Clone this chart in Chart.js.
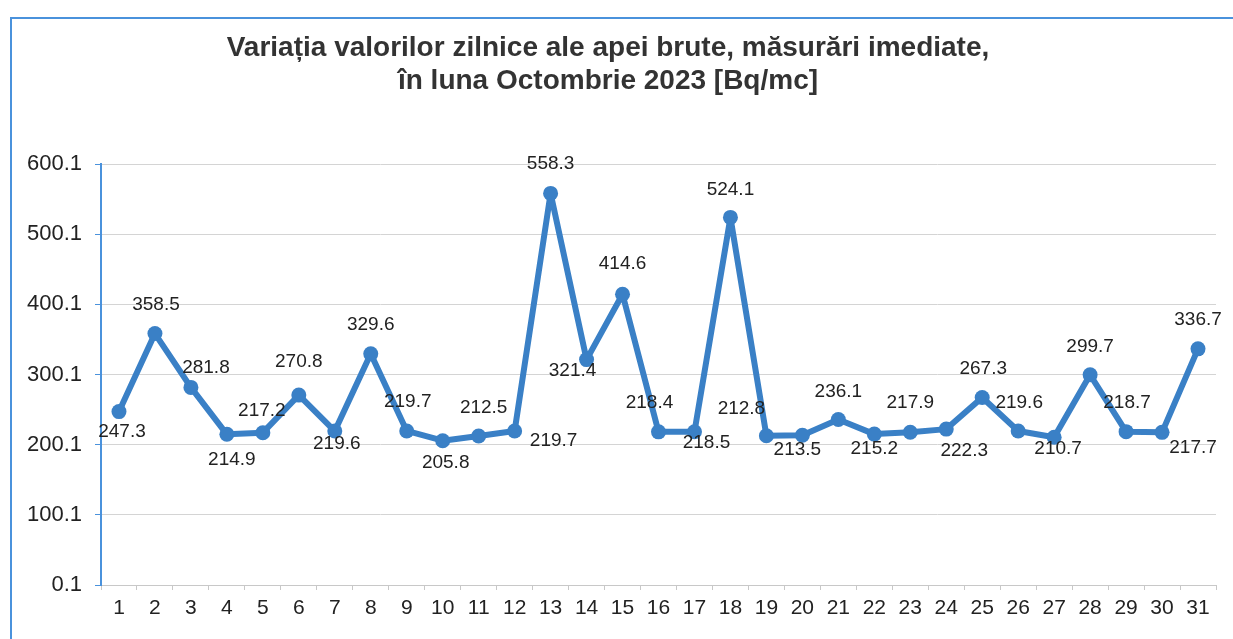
<!DOCTYPE html>
<html>
<head>
<meta charset="utf-8">
<script src="https://cdn.jsdelivr.net/npm/chart.js@4.4.0/dist/chart.umd.min.js"></script>
<style>
  html, body { margin: 0; padding: 0; background: #fff; }
  #wrap { position: relative; width: 1233px; height: 639px; overflow: hidden; }
  #frame { position: absolute; left: 10px; top: 17px; width: 1300px; height: 700px;
           border-left: 2px solid #4a92dc; border-top: 2px solid #4a92dc; }
  #mycanvas { position: absolute; left: 0; top: 0; }
</style>
</head>
<body>
<div id="wrap">
  <div id="frame"></div>
  <canvas id="mycanvas" width="1233" height="639"></canvas>
</div>
<script>
var days = ["1","2","3","4","5","6","7","8","9","10","11","12","13","14","15","16",
            "17","18","19","20","21","22","23","24","25","26","27","28","29","30","31"];
var activity = [247.3, 358.5, 281.8, 214.9, 217.2, 270.8, 219.6, 329.6, 219.7, 205.8,
                212.5, 219.7, 558.3, 321.4, 414.6, 218.4, 218.5, 524.1, 212.8, 213.5,
                236.1, 215.2, 217.9, 222.3, 267.3, 219.6, 210.7, 299.7, 218.7, 217.7, 336.7];
var yTicks = [0.1, 100.1, 200.1, 300.1, 400.1, 500.1, 600.1];

// where each value label sits relative to its point (dx, dy in px)
var labelOffsets = [
    [3, 20], [1, -29], [15, -20], [5, 25], [-1, -22], [0, -33], [2, 13], [0, -29],
    [1, -29], [3, 22], [5, -28], [39, 10], [0, -30], [-14, 11], [0, -30], [-9, -29],
    [12, 11], [0, -28], [-25, -27], [-5, 14], [0, -28], [0, 15], [0, -29], [18, 22],
    [1, -29], [1, -28], [4, 12], [0, -28], [1, -29], [31, 15], [0, -29]
];

var lineBlue = "#3a80c6";

var valueLabels = {
    id: "valueLabels",
    afterDatasetsDraw: function(chart) {
        var ctx = chart.ctx;
        var meta = chart.getDatasetMeta(0);
        ctx.save();
        ctx.font = "19px 'Liberation Sans', Arial, sans-serif";
        ctx.fillStyle = "#222";
        ctx.textAlign = "center";
        ctx.textBaseline = "middle";
        for (var i = 0; i < meta.data.length; i++) {
            var p = meta.data[i];
            var off = labelOffsets[i];
            ctx.fillText(activity[i].toFixed(1), p.x + off[0], p.y + off[1]);
        }
        ctx.restore();
    }
};

var ctx = document.getElementById("mycanvas");

var LineGraph = new Chart(ctx, {
    type: "line",
    data: {
        labels: days,
        datasets: [{
            label: "activitate",
            data: activity,
            borderColor: lineBlue,
            backgroundColor: lineBlue,
            borderWidth: 6,
            borderJoinStyle: "round",
            borderCapStyle: "round",
            pointRadius: 7.5,
            pointBackgroundColor: lineBlue,
            pointBorderWidth: 0,
            lineTension: 0,
            fill: false
        }]
    },
    options: {
        responsive: false,
        animation: false,
        layout: { padding: { left: 0, right: 17, top: 0, bottom: 0 } },
        plugins: {
            legend: { display: false },
            tooltip: { enabled: false },
            title: {
                display: true,
                text: ["Variația valorilor zilnice ale apei brute, măsurări imediate,",
                       "în luna Octombrie 2023 [Bq/mc]"],
                color: "#333",
                font: { family: "'Liberation Sans', Arial, sans-serif", size: 28, weight: "bold", lineHeight: 1.18 },
                padding: { top: 32, bottom: 66 }
            }
        },
        scales: {
            x: {
                offset: true,
                grid: { drawOnChartArea: false, drawTicks: true, tickLength: 5, color: "#c8c8c8", offset: true },
                border: { color: "#c8c8c8", width: 1 },
                ticks: {
                    color: "#222",
                    padding: 6,
                    maxRotation: 0,
                    autoSkip: false,
                    font: { family: "'Liberation Sans', Arial, sans-serif", size: 21 }
                },
                afterFit: function(scale) { scale.height = 54; }
            },
            y: {
                min: 0.1,
                max: 600.1,
                afterBuildTicks: function(scale) {
                    scale.ticks = yTicks.map(function(v) { return { value: v }; });
                },
                grid: { color: "#d4d4d4", tickColor: "#4a92dc", tickLength: 6, lineWidth: 1 },
                border: { color: "#4a92dc", width: 2 },
                ticks: {
                    color: "#222",
                    padding: 13,
                    font: { family: "'Liberation Sans', Arial, sans-serif", size: 22 },
                    callback: function(v) { return Number(v).toFixed(1); }
                },
                afterFit: function(scale) { scale.width = 101; }
            }
        }
    },
    plugins: [valueLabels]
});
</script>
</body>
</html>
